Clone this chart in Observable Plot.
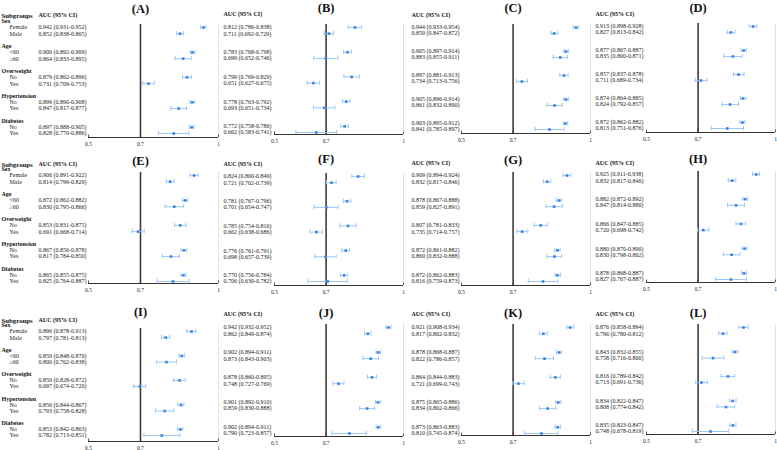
<!DOCTYPE html>
<html><head><meta charset="utf-8">
<script src="https://cdn.jsdelivr.net/npm/d3@7"></script>
<script src="https://cdn.jsdelivr.net/npm/@observablehq/plot@0.6"></script>
<style>
html,body{margin:0;padding:0;background:#fff;}
#chart{position:relative;width:777px;height:450px;overflow:hidden;font-family:"Liberation Serif","Times New Roman",serif;}
.panel{position:absolute;}
</style></head><body><div id="chart"></div>
<script>
// ---- data ----
const panelTitles = ["(A)","(B)","(C)","(D)","(E)","(F)","(G)","(H)","(I)","(J)","(K)","(L)"];
const groups = ["Sex","Age","Overweight","Hypertension","Diabetes"];
const subgroups = ["Female","Male","<60","≥60","No","Yes","No","Yes","No","Yes"];
const headerLabel = "Subgroups";
const headerAuc = "AUC (95% CI)";
const ticks = [0.5, 0.7, 1];
const refValue = 0.7;
// [AUC, lower, upper] per subgroup row
const aucA = [[0.942,0.931,0.952],[0.852,0.838,0.865],[0.900,0.892,0.909],[0.864,0.833,0.895],[0.879,0.862,0.896],[0.731,0.709,0.753],[0.899,0.890,0.908],[0.847,0.817,0.877],[0.897,0.888,0.905],[0.828,0.770,0.886]];
const aucB = [[0.812,0.786,0.838],[0.711,0.692,0.729],[0.783,0.768,0.798],[0.699,0.652,0.746],[0.799,0.769,0.829],[0.651,0.627,0.675],[0.778,0.763,0.792],[0.693,0.651,0.734],[0.772,0.758,0.786],[0.662,0.583,0.741]];
const aucC = [[0.944,0.933,0.954],[0.859,0.847,0.872],[0.905,0.897,0.914],[0.883,0.855,0.911],[0.897,0.881,0.913],[0.734,0.713,0.756],[0.905,0.896,0.914],[0.861,0.832,0.890],[0.903,0.895,0.912],[0.841,0.785,0.897]];
const aucD = [[0.913,0.898,0.928],[0.827,0.813,0.842],[0.877,0.867,0.887],[0.835,0.800,0.871],[0.857,0.837,0.878],[0.711,0.689,0.734],[0.874,0.864,0.885],[0.824,0.792,0.857],[0.872,0.862,0.882],[0.813,0.751,0.876]];
const aucE = [[0.906,0.891,0.922],[0.814,0.799,0.829],[0.872,0.862,0.882],[0.830,0.795,0.866],[0.853,0.831,0.875],[0.691,0.668,0.714],[0.867,0.856,0.878],[0.817,0.784,0.850],[0.865,0.855,0.875],[0.825,0.764,0.887]];
const aucF = [[0.824,0.800,0.849],[0.721,0.702,0.739],[0.781,0.767,0.796],[0.701,0.654,0.747],[0.785,0.754,0.816],[0.662,0.638,0.686],[0.776,0.761,0.791],[0.698,0.657,0.739],[0.770,0.756,0.784],[0.706,0.630,0.782]];
const aucG = [[0.909,0.894,0.924],[0.832,0.817,0.846],[0.878,0.867,0.888],[0.859,0.827,0.891],[0.807,0.781,0.833],[0.735,0.714,0.757],[0.872,0.861,0.882],[0.860,0.832,0.888],[0.872,0.862,0.883],[0.816,0.759,0.873]];
const aucH = [[0.925,0.911,0.938],[0.832,0.817,0.846],[0.882,0.872,0.892],[0.847,0.814,0.880],[0.866,0.847,0.885],[0.720,0.698,0.742],[0.880,0.870,0.890],[0.830,0.798,0.862],[0.878,0.868,0.887],[0.827,0.767,0.887]];
const aucI = [[0.896,0.878,0.913],[0.797,0.781,0.813],[0.859,0.848,0.870],[0.800,0.762,0.838],[0.850,0.828,0.872],[0.697,0.674,0.720],[0.856,0.844,0.867],[0.793,0.758,0.828],[0.853,0.842,0.863],[0.782,0.713,0.851]];
const aucJ = [[0.942,0.932,0.952],[0.862,0.849,0.874],[0.902,0.894,0.911],[0.873,0.843,0.903],[0.878,0.860,0.895],[0.748,0.727,0.769],[0.901,0.892,0.910],[0.859,0.830,0.888],[0.902,0.894,0.911],[0.790,0.723,0.857]];
const aucK = [[0.921,0.908,0.934],[0.817,0.802,0.832],[0.878,0.868,0.887],[0.822,0.786,0.857],[0.864,0.844,0.883],[0.721,0.699,0.743],[0.875,0.865,0.886],[0.834,0.802,0.866],[0.873,0.863,0.883],[0.810,0.745,0.874]];
const aucL = [[0.876,0.858,0.894],[0.796,0.780,0.812],[0.843,0.832,0.855],[0.758,0.716,0.800],[0.816,0.789,0.842],[0.713,0.691,0.736],[0.834,0.822,0.847],[0.808,0.774,0.842],[0.835,0.823,0.847],[0.748,0.678,0.819]];
const panelValues = [aucA,aucB,aucC,aucD,aucE,aucF,aucG,aucH,aucI,aucJ,aucK,aucL];

// ---- layout (pixels) ----
const colLeft = [0, 200, 390, 585];
const colTextX = [38, 223, 411, 595];
const colX05 = [88, 274, 461, 646];
const colX1 = [218, 403, 590, 775];
const rowTop = [0, 148, 298];
const rowH = [150, 150, 152];
// per panel: first item y, last item y, axis y, title y, header y
const vert = [
  [27,133,137,8,15],[27,132,134,7,14],[27,129,133,7.5,15],[26,128,132,7,14],
  [175,281,283,160,164],[176,281,285,158,164],[175,281,285,159,163],[174,279,282,158,163],
  [331,435,441,311,320],[327,433,436,312,314],[327,433,435,312,314],[327,431,434,312,314]
];
const whisker = "#9ec8f3";
const dotColor = "#3d86e6";
const chart = document.getElementById("chart");

panelTitles.forEach((title, i) => {
  const col = i % 4, row = Math.floor(i / 4);
  const [fy, ly, ay, ty, hy] = vert[i];
  const u = (ly - fy) / 17;
  const top = rowTop[row], H = rowH[row];
  const left = colLeft[col];
  const width = colX1[col] + 4 - left;
  const marginLeft = colX05[col] - left;
  const marginRight = width - (colX1[col] - left);
  const marginTop = fy - 0.5 * u - top;
  const marginBottom = top + H - ay;
  const posOf = py => 2 + (py - fy) / u;
  const yMax = posOf(ay);
  const rows = panelValues[i].map(([auc, lo, hi], k) => ({
    pos: 4 * Math.floor(k / 2) + 2 + (k % 2), auc, lo, hi, sub: subgroups[k],
    text: `${auc.toFixed(3)} (${lo.toFixed(3)}-${hi.toFixed(3)})`
  }));
  const groupRows = groups.map((g, gi) => ({pos: 4 * gi + 1, g}));
  const dxText = colTextX[col] - colX05[col];
  const marks = [
    Plot.ruleX([ticks[ticks.length - 1]], {y1: 1.5, y2: yMax, stroke: "#dadada", strokeWidth: 0.8}),
    Plot.ruleX([refValue], {y1: 1.5, y2: yMax, stroke: "#3c3c3c", strokeWidth: 1.6}),
    Plot.ruleY([yMax], {x1: () => ticks[0], x2: () => ticks[ticks.length - 1], stroke: "#333", strokeWidth: 1}),
    Plot.ruleX(ticks, {x: d => d, y1: yMax, y2: yMax - 2.5 / u, stroke: "#333", strokeWidth: 0.8}),
    Plot.axisX(ticks, {tickSize: 0, tickPadding: 5, fontSize: 5.5, fill: "#222", tickFormat: d => `${d}`}),
    Plot.ruleY(rows, {y: "pos", x1: "lo", x2: "hi", stroke: whisker, strokeWidth: 1}),
    Plot.ruleX(rows, {x: "lo", y1: d => d.pos - 0.35, y2: d => d.pos + 0.35, stroke: whisker, strokeWidth: 1}),
    Plot.ruleX(rows, {x: "hi", y1: d => d.pos - 0.35, y2: d => d.pos + 0.35, stroke: whisker, strokeWidth: 1}),
    Plot.dot(rows, {x: "auc", y: "pos", r: 1.5, symbol: "square", fill: dotColor}),
    Plot.text(rows, {y: "pos", text: "text", frameAnchor: "left", dx: dxText, textAnchor: "start", fontSize: 6, fill: "#222"}),
    Plot.text([headerAuc], {y: () => posOf(hy), text: d => d, frameAnchor: "left", dx: dxText, textAnchor: "start", fontSize: 6, fontWeight: "bold", fill: "#111"}),
    Plot.text([title], {x: () => refValue, y: () => posOf(ty), text: d => d, fontSize: 12.5, fontWeight: "bold", fill: "#111"})
  ];
  if (col === 0) {
    marks.push(
      Plot.text([headerLabel], {y: () => posOf(hy), text: d => d, frameAnchor: "left", dx: 1 - colX05[col], textAnchor: "start", fontSize: 6.8, fontWeight: "bold", fill: "#111"}),
      Plot.text(groupRows, {y: "pos", text: "g", frameAnchor: "left", dx: 1 - colX05[col], textAnchor: "start", fontSize: 6, fontWeight: "bold", fill: "#111"}),
      Plot.text(rows, {y: "pos", text: "sub", frameAnchor: "left", dx: 9 - colX05[col], textAnchor: "start", fontSize: 6, fill: "#222"})
    );
  }
  const svg = Plot.plot({
    width, height: H, marginLeft, marginRight, marginTop, marginBottom,
    x: {domain: [ticks[0], ticks[ticks.length - 1]], label: null},
    y: {domain: [1.5, yMax], reverse: true, axis: null, label: null},
    style: {background: "transparent", fontFamily: "'Liberation Serif','Times New Roman',serif", overflow: "visible"},
    marks
  });
  const div = document.createElement("div");
  div.className = "panel";
  div.style.left = left + "px";
  div.style.top = top + "px";
  div.style.width = width + "px";
  div.style.height = H + "px";
  div.appendChild(svg);
  chart.appendChild(div);
});
</script></body></html>
